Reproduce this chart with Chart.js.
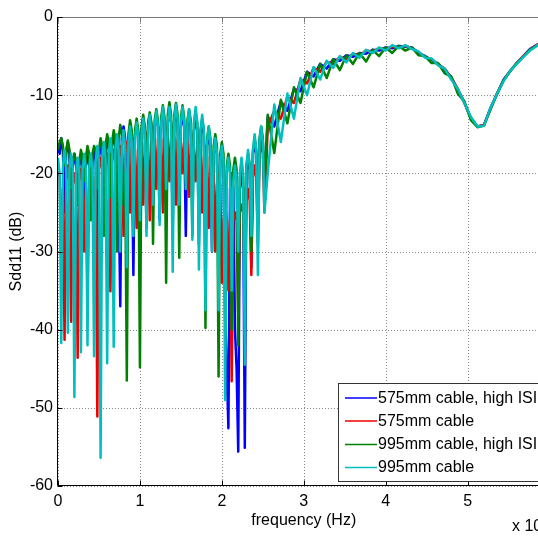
<!DOCTYPE html>
<html><head><meta charset="utf-8">
<script src="https://cdn.jsdelivr.net/npm/chart.js@4"></script>
<style>
html,body{margin:0;padding:0;background:#fff;overflow:hidden;width:538px;height:545px}
#wrap{position:absolute;left:0;top:0;width:560px;height:545px}
</style></head><body><div id="wrap"><canvas id="c" width="560" height="545"></canvas></div>
<script>
// frequency (x 10^9 Hz)
const freq=[0,0.02,0.04,0.06,0.08,0.1,0.12,0.14,0.16,0.18,0.2,0.22,0.24,0.26,0.28,0.3,0.32,0.34,0.36,0.38,0.4,0.42,0.44,0.46,0.48,0.5,0.52,0.54,0.56,0.58,0.6,0.62,0.64,0.66,0.68,0.7,0.72,0.74,0.76,0.78,0.8,0.82,0.84,0.86,0.88,0.9,0.92,0.94,0.96,0.98,
1,1.02,1.04,1.06,1.08,1.1,1.12,1.14,1.16,1.18,1.2,1.22,1.24,1.26,1.28,1.3,1.32,1.34,1.36,1.38,1.4,1.42,1.44,1.46,1.48,1.5,1.52,1.54,1.56,1.58,1.6,1.62,1.64,1.66,1.68,1.7,1.72,1.74,1.76,1.78,1.8,1.82,1.84,1.86,1.88,1.9,1.92,1.94,1.96,1.98,
2,2.02,2.04,2.06,2.08,2.1,2.12,2.14,2.16,2.18,2.2,2.22,2.24,2.26,2.28,2.3,2.32,2.34,2.36,2.38,2.4,2.42,2.44,2.46,2.48,2.5,2.52,
2.56,2.64,2.72,2.8,2.88,2.96,3.04,3.12,3.2,3.28,3.36,3.44,3.52,3.6,3.68,3.76,3.84,3.92,4,4.08,4.16,4.24,4.32,4.4,4.48,4.56,4.64,4.72,4.8,4.88,4.96,5.04,5.12,5.2,5.28,5.36,5.44,5.52,5.6,5.68,5.76,5.84,5.92,6];

const sdd11_575_highISI=[-16.5,-17.5,-15.5,-17,-25,-17.5,-16,-17.5,-27,-19,-17.5,-19,-24,-19,-17.5,-19,-28,-19,-17.5,-19,
-25,-18.5,-17,-18.5,-29,-18,-16.5,-17.5,-26,-17,-15.5,-17,-30,-16.5,-15,-16.5,-27,-22,-37,-15.5,
-14,-15.5,-26,-15.5,-14,-15.5,-33,-15,-13.5,-15,-25,-14.5,-13,-14.5,-27,-14,-12.5,-14,-23,-14,
-12.5,-14,-26,-13.5,-12,-13.5,-24,-13.5,-12,-13.5,-27,-13.5,-12,-13.5,-23,-14,-12.5,-14,-28,-14,
-12.5,-14,-24,-14.5,-13,-14.5,-29,-15,-13.5,-15,-27,-16.5,-15,-16.5,-30,-17.5,-16,-17.5,-32,-18.5,
-17,-18.5,-38,-45,-52.6,-22,-20,-22,-40,-45,-55.6,-22,-20,-22,-55.1,-20,-18,-19.5,-32,-17.5,
-16,-17.5,-27,-16,-14.5,-16,-22,
-12.8,-14,-10.8,-12,-9.2,-9.5,-7.0,-7.6,-6.0,-6.6,-5.4,-5.6,-4.9,-5.1,-4.6,-4.7,-4.2,-4.3,-3.9,-4.0,-3.7,-3.8,-3.9,-4.6,-5.0,-5.5,-6.0,-6.7,-7.7,-9.3,-10.9,-13.0,-14.0,-13.8,-11.6,-9.8,-8.0,-6.9,-5.9,-5.0,-4.1,-3.6,-3.2,-2.8];

const sdd11_575=[-19,-20.5,-30,-22,-41.3,-21,-19,-21,-39,-21.5,-20,-21.5,-43.6,-21,-19.5,-21,-30,-22,-35.3,-20.5,
-19,-20.5,-28,-20.5,-51.1,-19.5,-18,-19.5,-27,-19,-17.5,-19,-35.1,-18.5,-17,-18.5,-26,-18,-16.5,-18,
-28,-17.5,-16,-17.5,-25,-17,-15.5,-17,-27,-16.5,-15,-16.5,-24,-16.3,-14.8,-16.3,-26,-16,-14.5,-16,
-22,-15.7,-14.2,-15.7,-25,-15.5,-14,-15.5,-21,-15.5,-14,-15.5,-24,-16,-14.5,-16,-20,-16,-14.5,-16,
-23,-16.5,-15,-16.5,-21,-17,-15.5,-17,-25,-18,-16.5,-18,-27,-19.5,-18,-19.5,-30,-21.5,-20,-21.5,
-34,-26,-24,-25.5,-35,-26,-46.6,-26,-25,-26,-38,-25,-24,-25,-35,-23.5,-22,-23.5,-33,-20.5,
-19,-20.5,-29,-17.5,-16,-17.5,-25,
-14,-12,-13,-10.2,-11,-8.0,-8.5,-6.5,-7.0,-5.7,-6.0,-5.1,-5.4,-4.7,-4.9,-4.3,-4.4,-4.0,-4.1,-3.8,-3.9,-3.7,-4.0,-4.5,-5.1,-5.4,-6.1,-6.6,-7.8,-9.2,-11.0,-12.9,-14.0,-13.8,-11.7,-9.8,-8.1,-6.9,-5.9,-5.0,-4.2,-3.6,-3.2,-2.8];

const sdd11_995_highISI=[-17,-16,-15.5,-16.5,-19,-17,-15.8,-17,-22,-18.5,-17.5,-18.5,-24,-18.5,-17,-18,-21,-18,-16.5,-17.5,
-26,-17.5,-16.5,-17,-22,-17,-15.5,-16.5,-28,-16.5,-15,-16,-23,-16,-14.5,-15.5,-30,-15.5,-13.8,-15,
-24,-20,-46.5,-15,-13.2,-14.5,-26,-14.5,-13,-14.5,-44.8,-14,-12.5,-14,-24,-13.5,-12.2,-13.5,-29,-13.2,
-11.8,-13.2,-22,-12.8,-11.3,-12.8,-34,-12.5,-10.9,-12.5,-20,-12.5,-11,-12.5,-30.8,-12.8,-11.3,-12.8,-21,-13.2,
-11.8,-13.2,-28,-13.6,-12.2,-13.6,-23,-14.5,-13,-14.5,-39.8,-15.5,-14,-15.5,-25,-16.5,-15,-16.5,-46,-17.5,
-16,-17.5,-30,-19,-17.5,-19,-40,-19.5,-18,-19.5,-42,-20.5,-19,-20.5,-35,-19,-17.5,-19,-30,-17,
-15.5,-17,-26,-15.5,-14,-15.5,-22,
-12.5,-17.4,-10.6,-13.6,-9.0,-11,-7.0,-9,-6.0,-7.8,-5.4,-6.8,-4.9,-6.0,-4.6,-5.7,-4.2,-5.0,-3.9,-4.6,-3.7,-4.3,-3.9,-4.9,-5.0,-5.9,-5.9,-7.2,-7.6,-9.8,-10.8,-13.2,-14.1,-13.9,-11.8,-9.8,-8.1,-6.9,-5.9,-5.1,-4.2,-3.7,-3.2,-2.8];

const sdd11_995=[-18,-20,-41.7,-19,-17,-19,-40.4,-19.5,-17.5,-19.5,-48.6,-20,-18,-20,-42.9,-19.5,-17.5,-19.5,-42,-19.5,
-17.5,-19.5,-43.4,-18.5,-16.5,-18.5,-56.4,-18,-16,-18,-44.3,-17.5,-15.5,-17.5,-42.2,-17,-15,-17,-30,-16.5,
-14.5,-16.5,-32,-16,-14,-16,-28,-15.5,-13.5,-15.5,-26,-15,-13,-15,-28,-14.5,-12.5,-14.5,-24,-14,
-12,-14,-26.6,-13.5,-11.5,-13.5,-22,-13.5,-11.5,-13.5,-32.6,-13.2,-11.2,-13.2,-24,-13.5,-11.5,-13.5,-22,-13.8,
-11.8,-13.8,-28.5,-13.5,-11.5,-13.5,-32.3,-14.5,-12.5,-14.5,-37.5,-16,-14,-16,-30,-17.5,-15.5,-17.5,-37.5,-18.5,
-16.5,-18.5,-49,-20,-18,-20,-35,-21,-19,-21,-30,-20,-18,-20,-44.5,-19,-17,-19,-28,-17,
-15,-17,-33,-16,-14,-16,-25,
-20,-11.2,-16,-9.8,-13,-7.8,-10,-6.4,-8,-5.6,-6.5,-5.0,-5.8,-4.6,-5.2,-4.2,-4.6,-3.9,-4.3,-3.6,-4.0,-3.6,-4.1,-4.4,-5.2,-5.3,-6.2,-6.6,-8.0,-9.2,-11.0,-12.8,-14.0,-13.9,-11.6,-9.8,-8.2,-6.9,-6.0,-5.1,-4.3,-3.7,-3.2,-2.8];

const seriesLabels=["575mm cable, high ISI","575mm cable","995mm cable, high ISI","995mm cable"];
const xTicks=[0,1,2,3,4,5,6];
const yTicks=[0,-10,-20,-30,-40,-50,-60];

const FONT='"Liberation Sans", Arial, Helvetica, sans-serif';
Chart.defaults.font.family=FONT;
Chart.defaults.font.size=16;
Chart.defaults.color='#000';

function mk(label,vals,color,order){
  return {label,data:freq.map((f,i)=>({x:f,y:vals[i]})),borderColor:color,backgroundColor:color,
    borderWidth:2.5,pointRadius:0,fill:false,tension:0,order,borderJoinStyle:'round',borderCapStyle:'butt'};
}

const decor={
  id:'decor',
  beforeDatasetsDraw(chart){
    const {ctx,chartArea:a,scales:{x,y}}=chart;
    ctx.save();
    ctx.strokeStyle='#888';ctx.lineWidth=1;ctx.setLineDash([1,2]);
    xTicks.forEach(v=>{const px=Math.round(x.getPixelForValue(v))+0.5;ctx.beginPath();ctx.moveTo(px,a.top);ctx.lineTo(px,a.bottom);ctx.stroke();});
    yTicks.forEach(v=>{const py=Math.round(y.getPixelForValue(v))+0.5;ctx.beginPath();ctx.moveTo(a.left,py);ctx.lineTo(a.right,py);ctx.stroke();});
    ctx.restore();
  },
  afterDraw(chart){
    const {ctx,chartArea:a,scales:{x,y}}=chart;
    ctx.save();
    const L=Math.round(a.left)-0.5, B=Math.round(a.bottom)-0.5, T=Math.round(a.top)+0.5;
    ctx.strokeStyle='#777';ctx.lineWidth=1;
    ctx.beginPath();ctx.moveTo(L,T);ctx.lineTo(a.right,T);ctx.stroke();
    xTicks.forEach(v=>{const px=Math.round(x.getPixelForValue(v))+0.5;ctx.beginPath();ctx.moveTo(px,T);ctx.lineTo(px,T+5);ctx.stroke();});
    ctx.strokeStyle='#000';
    ctx.beginPath();ctx.moveTo(L,a.top);ctx.lineTo(L,B);ctx.lineTo(a.right,B);ctx.stroke();
    xTicks.forEach(v=>{const px=Math.round(x.getPixelForValue(v))+0.5;ctx.beginPath();ctx.moveTo(px,B);ctx.lineTo(px,B-5);ctx.stroke();});
    yTicks.forEach(v=>{const py=Math.round(y.getPixelForValue(v))+0.5;ctx.beginPath();ctx.moveTo(L,py);ctx.lineTo(L+5,py);ctx.stroke();});
    // legend
    const lx=338.5, ly=383.5, lw=212, lh=98;
    ctx.fillStyle='#fff';ctx.fillRect(lx,ly,lw,lh);
    ctx.strokeStyle='#333';ctx.lineWidth=1;ctx.strokeRect(lx,ly,lw,lh);
    const rows=[398,421,444.5,467.5];
    chart.data.datasets.forEach((ds,i)=>{
      ctx.strokeStyle=ds.borderColor;ctx.lineWidth=1.5;
      ctx.beginPath();ctx.moveTo(345,rows[i]);ctx.lineTo(377,rows[i]);ctx.stroke();
      ctx.fillStyle='#000';ctx.font='16px '+FONT;ctx.textBaseline='middle';ctx.textAlign='left';
      ctx.fillText(ds.label,378,rows[i]+0.5);
    });
    ctx.fillStyle='#000';ctx.font='16px '+FONT;ctx.textBaseline='middle';ctx.textAlign='left';
    ctx.fillText('x 10',512,527);
    ctx.font='12px '+FONT;ctx.fillText('9',543,518);
    ctx.restore();
  }
};

new Chart(document.getElementById('c'),{
  type:'line',
  data:{datasets:[
    mk(seriesLabels[0],sdd11_575_highISI,'#0000ff',4),
    mk(seriesLabels[1],sdd11_575,'#ee0000',3),
    mk(seriesLabels[2],sdd11_995_highISI,'#008000',2),
    mk(seriesLabels[3],sdd11_995,'#00bfbf',1)
  ]},
  options:{
    responsive:false,animation:false,events:[],
    layout:{padding:{top:17,right:8,left:0,bottom:0}},
    plugins:{legend:{display:false},tooltip:{enabled:false}},
    scales:{
      x:{type:'linear',min:0,max:6,
        afterBuildTicks:s=>{s.ticks=xTicks.map(v=>({value:v}));},
        afterFit:s=>{s.height=59;},
        grid:{display:false,drawTicks:false},border:{display:false},
        ticks:{padding:6,maxRotation:0,autoSkip:false,color:'#000',font:{size:16}},
        title:{display:true,text:'frequency (Hz)',color:'#000',font:{size:16},padding:{top:0,bottom:15}}
      },
      y:{type:'linear',min:-60,max:0,
        afterBuildTicks:s=>{s.ticks=yTicks.map(v=>({value:v}));},
        afterFit:s=>{s.width=58;},
        grid:{display:false,drawTicks:false},border:{display:false},
        ticks:{padding:5,color:'#000',font:{size:16}},
        title:{display:true,text:'Sdd11 (dB)',color:'#000',font:{size:16},padding:{top:7,bottom:0}}
      }
    }
  },
  plugins:[decor]
});
</script></body></html>
